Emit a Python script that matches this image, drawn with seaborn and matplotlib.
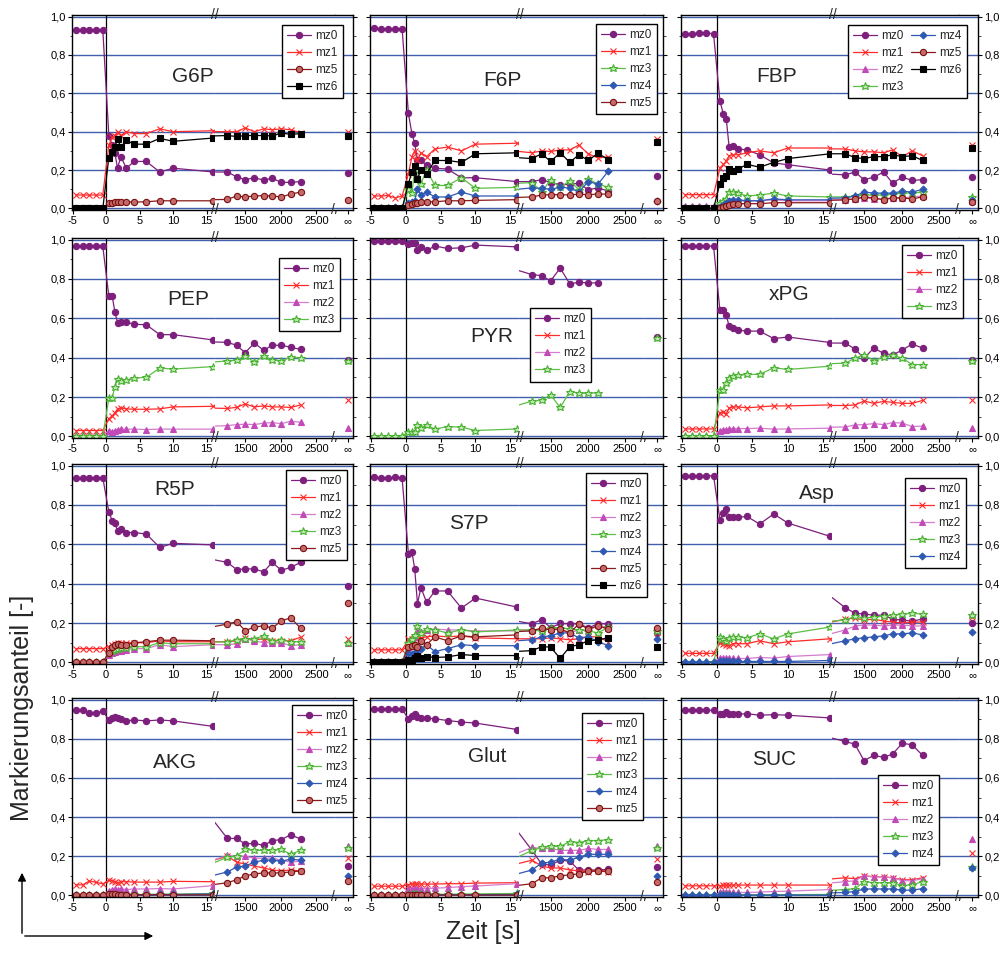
import numpy as np
import matplotlib
matplotlib.use("Agg")
import matplotlib.pyplot as plt
import seaborn as sns
from matplotlib.lines import Line2D
from matplotlib.patches import FancyArrowPatch
from matplotlib.ticker import MultipleLocator, FixedLocator, FuncFormatter

sns.set_style("ticks")
plt.rcParams["font.family"] = ["Liberation Sans", "DejaVu Sans"]

W, H = 1004, 955
nan = np.nan

# sampling times [s]: before pulse, after pulse, late phase
T_PRE = [-4.5, -3.5, -2.5, -1.5, -0.5]
T_POST = [0.4, 0.9, 1.3, 1.7, 2.2, 3.0, 4.2, 6.0, 8.0, 10.0, 16.0]
T_LATE = [1250, 1380, 1500, 1630, 1760, 1880, 2010, 2140, 2280]
T_ALL = T_PRE + T_POST + T_LATE

# --- G6P ---
G6P_MZ0 = [0.93, 0.93, 0.93, 0.93, 0.93,
           0.38, 0.33, 0.29, 0.21, 0.27, 0.21, 0.245, 0.245, 0.19, 0.21, 0.19,
           0.19, 0.165, 0.15, 0.16, 0.148, 0.157, 0.136, 0.136, 0.14]
G6P_MZ1 = [0.07, 0.07, 0.07, 0.07, 0.07,
           0.33, 0.37, 0.38, 0.40, 0.38, 0.40, 0.39, 0.39, 0.415, 0.40, 0.405,
           0.40, 0.40, 0.42, 0.40, 0.415, 0.41, 0.415, 0.41, 0.395]
G6P_MZ5 = [0.0, 0.0, 0.0, 0.0, 0.0,
           0.027, 0.03, 0.035, 0.035, 0.033, 0.035, 0.033, 0.035, 0.04, 0.04, 0.04,
           0.047, 0.065, 0.06, 0.065, 0.067, 0.065, 0.06, 0.075, 0.085]
G6P_MZ6 = [0.0, 0.0, 0.0, 0.0, 0.0,
           0.265, 0.295, 0.32, 0.36, 0.32, 0.355, 0.335, 0.335, 0.365, 0.35, 0.367,
           0.38, 0.375, 0.38, 0.38, 0.38, 0.378, 0.393, 0.386, 0.39]
G6P_INF = [0.186, 0.40, 0.042, 0.38]

# --- F6P ---
F6P_MZ0 = [0.94, 0.935, 0.935, 0.935, 0.935,
           0.495, 0.39, 0.34, 0.255, 0.25, 0.225, 0.21, 0.205, 0.16, 0.16, 0.14,
           0.14, 0.15, 0.135, 0.124, 0.125, 0.132, 0.097, 0.108, 0.09]
F6P_MZ1 = [0.065, 0.065, 0.068, 0.055, 0.065,
           0.18, 0.27, 0.30, 0.25, 0.29, 0.27, 0.31, 0.32, 0.30, 0.335, 0.34,
           0.29, 0.30, 0.297, 0.305, 0.305, 0.33, 0.285, 0.263, 0.27]
F6P_MZ3 = [0.0, 0.0, 0.0, 0.0, 0.0,
           0.10, 0.08, 0.20, 0.20, 0.13, 0.20, 0.12, 0.12, 0.16, 0.105, 0.11,
           0.135, 0.085, 0.15, 0.11, 0.145, 0.098, 0.153, 0.127, 0.11]
F6P_MZ4 = [0.0, 0.0, 0.0, 0.007, 0.0,
           0.03, 0.035, 0.04, 0.10, 0.07, 0.085, 0.06, 0.06, 0.085, 0.065, 0.065,
           0.107, 0.105, 0.10, 0.11, 0.107, 0.085, 0.14, 0.127, 0.195]
F6P_MZ5 = [0.0, 0.0, 0.0, 0.0, 0.0,
           0.02, 0.025, 0.03, 0.03, 0.035, 0.035, 0.035, 0.04, 0.04, 0.042, 0.046,
           0.06, 0.07, 0.072, 0.072, 0.07, 0.075, 0.072, 0.075, 0.075]
F6P_MZ6 = [0.0, 0.0, 0.0, 0.0, 0.0,
           0.13, 0.19, 0.22, 0.155, 0.20, 0.18, 0.25, 0.25, 0.24, 0.285, 0.29,
           0.26, 0.285, 0.245, 0.29, 0.24, 0.28, 0.25, 0.288, 0.254]
F6P_INF = [0.17, 0.36, nan, 0.04, 0.04, 0.345]

# --- FBP ---
FBP_MZ0 = [0.91, 0.91, 0.915, 0.915, 0.91,
           0.56, 0.49, 0.465, 0.32, 0.325, 0.31, 0.305, 0.28, 0.237, 0.228, 0.20,
           0.175, 0.19, 0.15, 0.163, 0.19, 0.132, 0.163, 0.146, 0.15]
FBP_MZ1 = [0.072, 0.072, 0.072, 0.072, 0.072,
           0.21, 0.23, 0.245, 0.275, 0.28, 0.28, 0.29, 0.30, 0.29, 0.315, 0.315,
           0.31, 0.30, 0.295, 0.295, 0.29, 0.305, 0.27, 0.30, 0.275]
FBP_MZ2 = [0.015, 0.015, 0.015, 0.015, 0.015,
           0.02, 0.025, 0.03, 0.035, 0.04, 0.04, 0.04, 0.04, 0.045, 0.04, 0.04,
           0.045, 0.05, 0.055, 0.05, 0.05, 0.055, 0.055, 0.06, 0.065]
FBP_MZ3 = [0.0, 0.0, 0.0, 0.0, 0.0,
           0.03, 0.04, 0.05, 0.085, 0.085, 0.08, 0.065, 0.07, 0.08, 0.065, 0.06,
           0.06, 0.065, 0.07, 0.07, 0.07, 0.075, 0.08, 0.08, 0.085]
FBP_MZ4 = [0.0, 0.0, 0.0, 0.0, 0.0,
           0.01, 0.02, 0.03, 0.04, 0.045, 0.045, 0.04, 0.04, 0.05, 0.045, 0.045,
           0.055, 0.065, 0.085, 0.08, 0.08, 0.08, 0.09, 0.085, 0.10]
FBP_MZ5 = [0.0, 0.0, 0.0, 0.0, 0.0,
           0.005, 0.01, 0.015, 0.02, 0.025, 0.025, 0.025, 0.025, 0.03, 0.03, 0.03,
           0.045, 0.05, 0.06, 0.055, 0.045, 0.055, 0.055, 0.05, 0.06]
FBP_MZ6 = [0.0, 0.0, 0.0, 0.0, 0.0,
           0.13, 0.16, 0.17, 0.205, 0.195, 0.205, 0.23, 0.215, 0.24, 0.26, 0.285,
           0.285, 0.265, 0.26, 0.27, 0.27, 0.28, 0.27, 0.275, 0.25]
FBP_INF = [0.163, 0.33, 0.04, 0.06, 0.045, 0.035, 0.315]

# --- PEP ---
PEP_MZ0 = [0.965, 0.965, 0.965, 0.965, 0.965,
           0.713, 0.713, 0.633, 0.578, 0.58, 0.58, 0.57, 0.567, 0.517, 0.517, 0.49,
           0.478, 0.463, 0.425, 0.475, 0.437, 0.463, 0.463, 0.453, 0.442]
PEP_MZ1 = [0.03, 0.03, 0.03, 0.03, 0.03,
           0.09, 0.105, 0.12, 0.14, 0.145, 0.14, 0.138, 0.138, 0.14, 0.15, 0.153,
           0.142, 0.148, 0.165, 0.15, 0.155, 0.15, 0.15, 0.147, 0.16]
PEP_MZ2 = [0.005, 0.005, 0.005, 0.005, 0.005,
           0.03, 0.025, 0.03, 0.035, 0.037, 0.037, 0.037, 0.035, 0.037, 0.037, 0.037,
           0.055, 0.06, 0.062, 0.06, 0.068, 0.07, 0.065, 0.077, 0.072]
PEP_MZ3 = [0.0, 0.0, 0.0, 0.0, 0.0,
           0.195, 0.195, 0.253, 0.29, 0.283, 0.287, 0.297, 0.30, 0.347, 0.342, 0.355,
           0.383, 0.387, 0.41, 0.377, 0.408, 0.387, 0.385, 0.402, 0.398]
PEP_INF = [0.39, 0.185, 0.045, 0.385]

# --- PYR (mz1, mz2 only in the legend) ---
PYR_MZ0 = [0.995, 0.995, 0.995, 0.995, 0.995,
           0.975, 0.983, 0.983, 0.947, 0.963, 0.945, 0.967, 0.955, 0.958, 0.972, 0.963,
           0.822, 0.817, 0.79, 0.855, 0.775, 0.783, 0.78, 0.78, nan]
PYR_MZ3 = [0.0, 0.0, 0.0, 0.0, 0.0,
           0.025, 0.02, 0.02, 0.058, 0.042, 0.058, 0.037, 0.05, 0.047, 0.03, 0.038,
           0.18, 0.183, 0.212, 0.147, 0.228, 0.22, 0.22, 0.222, nan]
PYR_INF = [0.505, nan, nan, 0.50]

# --- xPG ---
XPG_MZ0 = [0.967, 0.967, 0.967, 0.967, 0.967,
           0.64, 0.64, 0.615, 0.56, 0.55, 0.54, 0.535, 0.535, 0.497, 0.505, 0.477,
           0.474, 0.444, 0.397, 0.449, 0.422, 0.414, 0.439, 0.469, 0.449]
XPG_MZ1 = [0.038, 0.038, 0.038, 0.038, 0.038,
           0.12, 0.125, 0.115, 0.145, 0.15, 0.15, 0.145, 0.15, 0.155, 0.155, 0.16,
           0.157, 0.16, 0.18, 0.168, 0.178, 0.173, 0.168, 0.168, 0.183]
XPG_MZ2 = [0.0, 0.0, 0.0, 0.0, 0.0,
           0.03, 0.035, 0.035, 0.037, 0.04, 0.04, 0.04, 0.042, 0.037, 0.038, 0.042,
           0.048, 0.058, 0.06, 0.065, 0.06, 0.07, 0.068, 0.05, 0.053]
XPG_MZ3 = [0.0, 0.0, 0.0, 0.0, 0.0,
           0.235, 0.235, 0.27, 0.298, 0.307, 0.31, 0.315, 0.315, 0.349, 0.34, 0.357,
           0.372, 0.397, 0.415, 0.385, 0.403, 0.412, 0.398, 0.365, 0.365]
XPG_INF = [0.389, 0.183, 0.045, 0.385]

# --- R5P ---
R5P_MZ0 = [0.938, 0.938, 0.938, 0.938, 0.938,
           0.765, 0.72, 0.71, 0.667, 0.68, 0.66, 0.66, 0.652, 0.584, 0.605, 0.597,
           0.508, 0.472, 0.475, 0.475, 0.46, 0.508, 0.468, 0.483, 0.508]
R5P_MZ1 = [0.07, 0.07, 0.07, 0.07, 0.07,
           0.08, 0.09, 0.095, 0.098, 0.10, 0.10, 0.10, 0.10, 0.11, 0.105, 0.105,
           0.105, 0.11, 0.125, 0.115, 0.12, 0.11, 0.11, 0.11, 0.128]
R5P_MZ2 = [0.0, 0.0, 0.0, 0.0, 0.0,
           0.04, 0.05, 0.055, 0.06, 0.06, 0.065, 0.07, 0.07, 0.09, 0.08, 0.09,
           0.09, 0.095, 0.12, 0.11, 0.10, 0.10, 0.10, 0.085, 0.09]
R5P_MZ3 = [0.0, 0.0, 0.0, 0.0, 0.0,
           0.05, 0.06, 0.065, 0.07, 0.075, 0.075, 0.08, 0.08, 0.10, 0.095, 0.095,
           0.105, 0.115, 0.12, 0.12, 0.135, 0.11, 0.115, 0.105, 0.105]
R5P_MZ5 = [0.0, 0.0, 0.0, 0.0, 0.0,
           0.05, 0.08, 0.09, 0.095, 0.09, 0.09, 0.10, 0.105, 0.113, 0.113, 0.11,
           0.195, 0.207, 0.162, 0.179, 0.187, 0.174, 0.212, 0.226, 0.174]
R5P_INF = [0.388, 0.12, 0.10, 0.10, 0.30]

# --- S7P ---
S7P_MZ0 = [0.94, 0.937, 0.937, 0.94, 0.935,
           0.553, 0.561, 0.477, 0.298, 0.38, 0.305, 0.363, 0.363, 0.276, 0.327, 0.281,
           0.196, 0.218, 0.176, 0.198, 0.196, 0.196, 0.176, 0.196, 0.196]
S7P_MZ1 = [0.064, 0.064, 0.064, 0.064, 0.064,
           0.117, 0.12, 0.125, 0.12, 0.125, 0.13, 0.135, 0.13, 0.135, 0.125, 0.12,
           0.12, 0.12, 0.125, 0.12, 0.115, 0.12, 0.13, 0.13, 0.105]
S7P_MZ2 = [0.0, 0.0, 0.0, 0.0, 0.0,
           0.08, 0.11, 0.13, 0.16, 0.155, 0.165, 0.17, 0.165, 0.165, 0.16, 0.16,
           0.165, 0.17, 0.17, 0.165, 0.15, 0.165, 0.16, 0.19, 0.175]
S7P_MZ3 = [0.0, 0.0, 0.0, 0.0, 0.0,
           0.10, 0.12, 0.14, 0.185, 0.15, 0.17, 0.165, 0.15, 0.165, 0.155, 0.165,
           0.165, 0.16, 0.175, 0.175, 0.17, 0.165, 0.16, 0.15, 0.18]
S7P_MZ4 = [0.0, 0.0, 0.0, 0.0, 0.0,
           0.05, 0.045, 0.05, 0.065, 0.07, 0.09, 0.055, 0.07, 0.09, 0.085, 0.085,
           0.115, 0.13, 0.135, 0.15, 0.15, 0.125, 0.13, 0.105, 0.085]
S7P_MZ5 = [0.0, 0.0, 0.0, 0.0, 0.0,
           0.08, 0.085, 0.09, 0.08, 0.11, 0.09, 0.13, 0.11, 0.135, 0.13, 0.14,
           0.16, 0.175, 0.165, 0.17, 0.15, 0.195, 0.17, 0.185, 0.17]
S7P_MZ6 = [0.0, 0.0, 0.0, 0.0, 0.0,
           0.01, 0.01, 0.02, 0.035, 0.02, 0.03, 0.025, 0.028, 0.04, 0.035, 0.035,
           0.06, 0.08, 0.078, 0.02, 0.08, 0.09, 0.11, 0.115, 0.125]
S7P_INF = [0.15, 0.13, 0.17, 0.16, 0.12, 0.175, 0.08]

# --- Asp ---
ASP_MZ0 = [0.948, 0.948, 0.948, 0.948, 0.948,
           0.725, 0.759, 0.779, 0.737, 0.737, 0.737, 0.742, 0.703, 0.754, 0.708, 0.64,
           0.278, 0.25, 0.246, 0.24, 0.24, 0.22, 0.215, 0.21, 0.22]
ASP_MZ1 = [0.046, 0.046, 0.046, 0.046, 0.046,
           0.10, 0.095, 0.09, 0.085, 0.095, 0.095, 0.095, 0.11, 0.095, 0.105, 0.12,
           0.22, 0.225, 0.215, 0.22, 0.21, 0.205, 0.20, 0.205, 0.205]
ASP_MZ2 = [0.0, 0.0, 0.0, 0.0, 0.0,
           0.025, 0.02, 0.02, 0.02, 0.02, 0.02, 0.02, 0.025, 0.022, 0.03, 0.04,
           0.165, 0.185, 0.19, 0.19, 0.185, 0.19, 0.19, 0.185, 0.185]
ASP_MZ3 = [0.0, 0.0, 0.0, 0.0, 0.0,
           0.13, 0.12, 0.11, 0.125, 0.13, 0.13, 0.125, 0.145, 0.12, 0.145, 0.18,
           0.215, 0.235, 0.225, 0.23, 0.235, 0.24, 0.245, 0.25, 0.245]
ASP_MZ4 = [0.0, 0.0, 0.0, 0.0, 0.0,
           0.005, 0.005, 0.005, 0.005, 0.005, 0.005, 0.005, 0.005, 0.005, 0.005, 0.01,
           0.11, 0.12, 0.125, 0.13, 0.135, 0.145, 0.145, 0.15, 0.14]
ASP_INF = [0.20, 0.23, 0.245, 0.24, 0.157]

# --- AKG ---
AKG_MZ0 = [0.946, 0.946, 0.93, 0.933, 0.941,
           0.896, 0.908, 0.913, 0.905, 0.90, 0.891, 0.896, 0.891, 0.896, 0.891, 0.863,
           0.291, 0.291, 0.263, 0.266, 0.255, 0.28, 0.285, 0.31, 0.288]
AKG_MZ1 = [0.054, 0.054, 0.074, 0.067, 0.059,
           0.078, 0.075, 0.07, 0.065, 0.07, 0.07, 0.068, 0.068, 0.068, 0.072, 0.07,
           0.20, 0.17, 0.16, 0.15, 0.14, 0.13, 0.125, 0.13, 0.125]
AKG_MZ2 = [0.0, 0.0, 0.0, 0.0, 0.0,
           0.025, 0.03, 0.035, 0.03, 0.035, 0.03, 0.033, 0.033, 0.035, 0.033, 0.05,
           0.205, 0.20, 0.20, 0.19, 0.19, 0.19, 0.18, 0.17, 0.175]
AKG_MZ3 = [0.0, 0.0, 0.0, 0.0, 0.0,
           0.004, 0.004, 0.004, 0.004, 0.004, 0.004, 0.005, 0.005, 0.006, 0.006, 0.01,
           0.195, 0.20, 0.235, 0.23, 0.23, 0.23, 0.235, 0.21, 0.23]
AKG_MZ4 = [0.0, 0.0, 0.0, 0.0, 0.0,
           0.003, 0.003, 0.003, 0.003, 0.003, 0.003, 0.004, 0.004, 0.005, 0.005, 0.008,
           0.12, 0.145, 0.15, 0.17, 0.18, 0.18, 0.175, 0.185, 0.18]
AKG_MZ5 = [0.0, 0.0, 0.0, 0.0, 0.0,
           0.005, 0.008, 0.005, 0.003, 0.003, 0.003, 0.003, 0.003, 0.003, 0.003, 0.003,
           0.065, 0.08, 0.10, 0.11, 0.115, 0.115, 0.115, 0.12, 0.125]
AKG_INF = [0.149, 0.19, 0.25, 0.24, 0.10, 0.075]

# --- Glut ---
GLU_MZ0 = [0.95, 0.95, 0.95, 0.95, 0.95,
           0.902, 0.918, 0.925, 0.913, 0.905, 0.905, 0.902, 0.893, 0.885, 0.88, 0.847,
           0.23, 0.16, 0.155, 0.18, 0.175, 0.13, 0.13, 0.13, 0.133]
GLU_MZ1 = [0.047, 0.047, 0.047, 0.047, 0.047,
           0.055, 0.058, 0.058, 0.058, 0.058, 0.058, 0.058, 0.06, 0.06, 0.063, 0.065,
           0.18, 0.15, 0.14, 0.14, 0.13, 0.125, 0.12, 0.125, 0.12]
GLU_MZ2 = [0.0, 0.0, 0.0, 0.0, 0.0,
           0.035, 0.035, 0.035, 0.035, 0.035, 0.035, 0.037, 0.04, 0.045, 0.048, 0.06,
           0.245, 0.24, 0.24, 0.23, 0.23, 0.23, 0.24, 0.235, 0.235]
GLU_MZ3 = [0.0, 0.0, 0.0, 0.0, 0.0,
           0.005, 0.005, 0.005, 0.005, 0.005, 0.005, 0.006, 0.006, 0.007, 0.008, 0.01,
           0.23, 0.245, 0.25, 0.25, 0.275, 0.27, 0.28, 0.28, 0.285]
GLU_MZ4 = [0.0, 0.0, 0.0, 0.0, 0.0,
           0.003, 0.003, 0.003, 0.003, 0.003, 0.003, 0.003, 0.004, 0.004, 0.004, 0.005,
           0.13, 0.165, 0.17, 0.185, 0.18, 0.195, 0.21, 0.21, 0.21]
GLU_MZ5 = [0.0, 0.0, 0.0, 0.0, 0.0,
           0.002, 0.002, 0.002, 0.002, 0.002, 0.002, 0.002, 0.002, 0.002, 0.002, 0.002,
           0.06, 0.09, 0.09, 0.10, 0.105, 0.11, 0.125, 0.125, 0.125]
GLU_INF = [0.147, 0.185, 0.25, 0.24, 0.10, 0.07]

# --- SUC ---
SUC_MZ0 = [0.945, 0.945, 0.945, 0.945, 0.945,
           0.925, 0.925, 0.936, 0.925, 0.925, 0.925, 0.928, 0.92, 0.923, 0.92, 0.906,
           0.786, 0.772, 0.688, 0.715, 0.705, 0.722, 0.777, 0.769, 0.715]
SUC_MZ1 = [0.049, 0.049, 0.049, 0.049, 0.049,
           0.05, 0.053, 0.053, 0.053, 0.053, 0.053, 0.053, 0.053, 0.053, 0.053, 0.053,
           0.09, 0.085, 0.10, 0.095, 0.095, 0.09, 0.08, 0.08, 0.09]
SUC_MZ2 = [0.0, 0.0, 0.0, 0.0, 0.0,
           0.015, 0.015, 0.015, 0.015, 0.015, 0.015, 0.015, 0.017, 0.02, 0.022, 0.03,
           0.07, 0.075, 0.10, 0.095, 0.095, 0.09, 0.075, 0.075, 0.085]
SUC_MZ3 = [0.0, 0.0, 0.0, 0.0, 0.0,
           0.003, 0.003, 0.003, 0.003, 0.003, 0.003, 0.003, 0.003, 0.004, 0.004, 0.005,
           0.03, 0.035, 0.07, 0.065, 0.065, 0.065, 0.05, 0.055, 0.07]
SUC_MZ4 = [0.0, 0.0, 0.0, 0.0, 0.0,
           0.002, 0.002, 0.002, 0.002, 0.002, 0.002, 0.002, 0.002, 0.002, 0.002, 0.002,
           0.015, 0.02, 0.033, 0.033, 0.033, 0.033, 0.027, 0.027, 0.035]
SUC_INF = [nan, 0.215, 0.29, 0.145, 0.14]

PANELS = [
    dict(name="G6P", iso=["mz0", "mz1", "mz5", "mz6"],
         data=[G6P_MZ0, G6P_MZ1, G6P_MZ5, G6P_MZ6], inf=G6P_INF,
         title=(193, 77), leg=(343, 25), ncol=1),
    dict(name="F6P", iso=["mz0", "mz1", "mz3", "mz4", "mz5", "mz6"],
         data=[F6P_MZ0, F6P_MZ1, F6P_MZ3, F6P_MZ4, F6P_MZ5, F6P_MZ6], inf=F6P_INF,
         title=(502, 81), leg=(657, 24), ncol=1, leg_iso=["mz0", "mz1", "mz3", "mz4", "mz5"]),
    dict(name="FBP", iso=["mz0", "mz1", "mz2", "mz3", "mz4", "mz5", "mz6"],
         data=[FBP_MZ0, FBP_MZ1, FBP_MZ2, FBP_MZ3, FBP_MZ4, FBP_MZ5, FBP_MZ6], inf=FBP_INF,
         title=(777, 76), leg=(967, 25), ncol=2),
    dict(name="PEP", iso=["mz0", "mz1", "mz2", "mz3"],
         data=[PEP_MZ0, PEP_MZ1, PEP_MZ2, PEP_MZ3], inf=PEP_INF,
         title=(188, 299), leg=(340, 258), ncol=1),
    dict(name="PYR", iso=["mz0", "mz1", "mz2", "mz3"],
         data=[PYR_MZ0, None, None, PYR_MZ3], inf=PYR_INF,
         title=(492, 337), leg=(591, 308), ncol=1),
    dict(name="xPG", iso=["mz0", "mz1", "mz2", "mz3"],
         data=[XPG_MZ0, XPG_MZ1, XPG_MZ2, XPG_MZ3], inf=XPG_INF,
         title=(789, 295), leg=(963, 245), ncol=1),
    dict(name="R5P", iso=["mz0", "mz1", "mz2", "mz3", "mz5"],
         data=[R5P_MZ0, R5P_MZ1, R5P_MZ2, R5P_MZ3, R5P_MZ5], inf=R5P_INF,
         title=(175, 489), leg=(347, 470), ncol=1),
    dict(name="S7P", iso=["mz0", "mz1", "mz2", "mz3", "mz4", "mz5", "mz6"],
         data=[S7P_MZ0, S7P_MZ1, S7P_MZ2, S7P_MZ3, S7P_MZ4, S7P_MZ5, S7P_MZ6], inf=S7P_INF,
         title=(469, 523), leg=(647, 473), ncol=1),
    dict(name="Asp", iso=["mz0", "mz1", "mz2", "mz3", "mz4"],
         data=[ASP_MZ0, ASP_MZ1, ASP_MZ2, ASP_MZ3, ASP_MZ4], inf=ASP_INF,
         title=(817, 493), leg=(966, 478), ncol=1, boxed=True),
    dict(name="AKG", iso=["mz0", "mz1", "mz2", "mz3", "mz4", "mz5"],
         data=[AKG_MZ0, AKG_MZ1, AKG_MZ2, AKG_MZ3, AKG_MZ4, AKG_MZ5], inf=AKG_INF,
         title=(175, 762), leg=(353, 705), ncol=1),
    dict(name="Glut", iso=["mz0", "mz1", "mz2", "mz3", "mz4", "mz5"],
         data=[GLU_MZ0, GLU_MZ1, GLU_MZ2, GLU_MZ3, GLU_MZ4, GLU_MZ5], inf=GLU_INF,
         title=(487, 756), leg=(643, 713), ncol=1),
    dict(name="SUC", iso=["mz0", "mz1", "mz2", "mz3", "mz4"],
         data=[SUC_MZ0, SUC_MZ1, SUC_MZ2, SUC_MZ3, SUC_MZ4], inf=SUC_INF,
         title=(774, 759), leg=(939, 775), ncol=1),
]

STYLE = {
    "mz0": dict(color="#7d1f7d", marker="o", markerfacecolor="#7d1f7d",
                markeredgecolor="#7d1f7d", markersize=4.5),
    "mz1": dict(color="#ff2a2a", marker="x", markerfacecolor="#ff2a2a",
                markeredgecolor="#ff2a2a", markersize=5.0),
    "mz2": dict(color="#d47cce", marker="^", markerfacecolor="#c24ab8",
                markeredgecolor="#c24ab8", markersize=4.5),
    "mz3": dict(color="#5cbf45", marker="*", markerfacecolor="#bfe8b0",
                markeredgecolor="#48b030", markersize=6.2),
    "mz4": dict(color="#2f58b3", marker="D", markerfacecolor="#2f58b3",
                markeredgecolor="#2f58b3", markersize=3.5),
    "mz5": dict(color="#8b1a1a", marker="o", markerfacecolor="#c46a6a",
                markeredgecolor="#7a1010", markersize=4.5),
    "mz6": dict(color="#000000", marker="s", markerfacecolor="#000000",
                markeredgecolor="#000000", markersize=4.0),
}

GRID_BLUE = "#4060ad"
COL_X = [(72, 353), (370, 663), (681, 978)]
ROW_Y = [(15, 210), (238, 438), (464, 664), (698, 897)]
INF_X = 0.7
FS_TICK = 8


def fx(px):
    return px / W


def fy(py):
    return 1 - py / H


comma = FuncFormatter(lambda v, p: f"{v:.1f}".replace(".", ","))

fig = plt.figure(figsize=(W / 100, H / 100), dpi=100)

for i, p in enumerate(PANELS):
    r, c = divmod(i, 3)
    x0, x1 = COL_X[c]
    y0, y1 = ROW_Y[r]
    pw, ph = x1 - x0, y1 - y0
    w_e = 0.51 * pw
    w_l = 0.425 * pw
    w_i = pw - w_e - w_l
    ax_e = fig.add_axes([fx(x0), fy(y1), w_e / W, ph / H])
    ax_l = fig.add_axes([fx(x0 + w_e), fy(y1), w_l / W, ph / H])
    ax_i = fig.add_axes([fx(x0 + w_e + w_l), fy(y1), w_i / W, ph / H])

    for ax in (ax_e, ax_l, ax_i):
        ax.set_ylim(-0.008, 1.008)
        ax.yaxis.set_major_locator(MultipleLocator(0.2))
        ax.yaxis.set_minor_locator(MultipleLocator(0.1))
        ax.set_axisbelow(True)
        ax.yaxis.grid(True, which="major", color=GRID_BLUE, lw=1.0)
        for s in ax.spines.values():
            s.set_color("black")
            s.set_linewidth(1.0)
        ax.tick_params(direction="out", length=3, width=0.8, labelsize=FS_TICK,
                       pad=1.5, colors="black")
        ax.tick_params(which="minor", direction="out", length=1.8, width=0.6)

    ax_e.axvline(0, color="black", lw=0.9, zorder=1.5)

    for iso, vals, inf in zip(p["iso"], p["data"], p["inf"]):
        if vals is None:
            continue
        kw = dict(STYLE[iso], linewidth=0.9, markeredgewidth=0.8)
        for ax in (ax_e, ax_l):
            sns.lineplot(x=T_ALL, y=vals, ax=ax, **kw)
        if not np.isnan(inf):
            sns.lineplot(x=[INF_X], y=[inf], ax=ax_i, **kw)

    # early segment
    ax_e.set_xlim(-5.1, 16.3)
    ax_e.set_xticks([-5, 0, 5, 10, 15])
    ax_e.set_xticklabels(["-5", "0", "5", "10", "15"])
    ax_e.spines["right"].set_visible(False)
    ax_e.yaxis.set_major_formatter(comma)
    ax_e.tick_params(axis="y", which="both", left=True, right=False,
                     labelleft=(c == 0))

    # late segment
    ax_l.set_xlim(1080, 2760)
    ax_l.set_xticks([1500, 2000, 2500])
    ax_l.spines["left"].set_visible(False)
    ax_l.spines["right"].set_visible(False)
    ax_l.tick_params(axis="y", which="both", left=False, right=False, labelleft=False)

    # steady state (infinity) segment
    ax_i.set_xlim(0, 1)
    ax_i.xaxis.set_major_locator(FixedLocator([INF_X]))
    ax_i.set_xticklabels(["\u221e"])
    ax_i.spines["left"].set_visible(False)
    ax_i.yaxis.set_major_formatter(comma)
    ax_i.tick_params(axis="y", which="both", left=False, right=True,
                     labelleft=False, labelright=(c == 2))

    for ax in (ax_e, ax_l, ax_i):
        ax.set_xlabel("")
        ax.set_ylabel("")

    # axis break marks
    brk = dict(ha="center", va="center", fontsize=10, clip_on=False, zorder=10,
               transform=ax_l.transAxes)
    ax_l.text(0, 1, "//", **brk)
    ax_l.text(0, 0, "//", **brk)
    ax_l.text(1, 0, "//", **brk)

    # panel title
    bbox = dict(facecolor="white", edgecolor="none", pad=1) if p.get("boxed") else None
    fig.text(fx(p["title"][0]), fy(p["title"][1]), p["name"], fontsize=15,
             ha="center", va="center", bbox=bbox, zorder=5)

    # legend
    leg_iso = p.get("leg_iso", p["iso"])
    handles = [Line2D([], [], linewidth=0.9, markeredgewidth=0.8, **STYLE[k])
               for k in leg_iso]
    leg = fig.legend(handles, leg_iso, loc="upper right",
                     bbox_to_anchor=(fx(p["leg"][0]), fy(p["leg"][1])),
                     ncol=p["ncol"], fontsize=8.5, frameon=True, fancybox=False,
                     framealpha=1, edgecolor="black", borderpad=0.45,
                     labelspacing=0.42, handlelength=2.0, handletextpad=0.4,
                     columnspacing=0.6, borderaxespad=0, numpoints=1)
    leg.get_frame().set_linewidth(1.0)

# axis titles and arrows
fig.text(fx(22), fy(708), "Markierungsanteil [-]", rotation=90, fontsize=18,
         ha="center", va="center")
fig.text(fx(483), fy(932), "Zeit [s]", fontsize=18, ha="center", va="center")
for end in [(22, 870), (156, 936)]:
    fig.add_artist(FancyArrowPatch((fx(22), fy(936)), (fx(end[0]), fy(end[1])),
                                   transform=fig.transFigure, arrowstyle="-|>",
                                   mutation_scale=12, color="black", lw=1.0))

fig.savefig("out.png", dpi=100)
